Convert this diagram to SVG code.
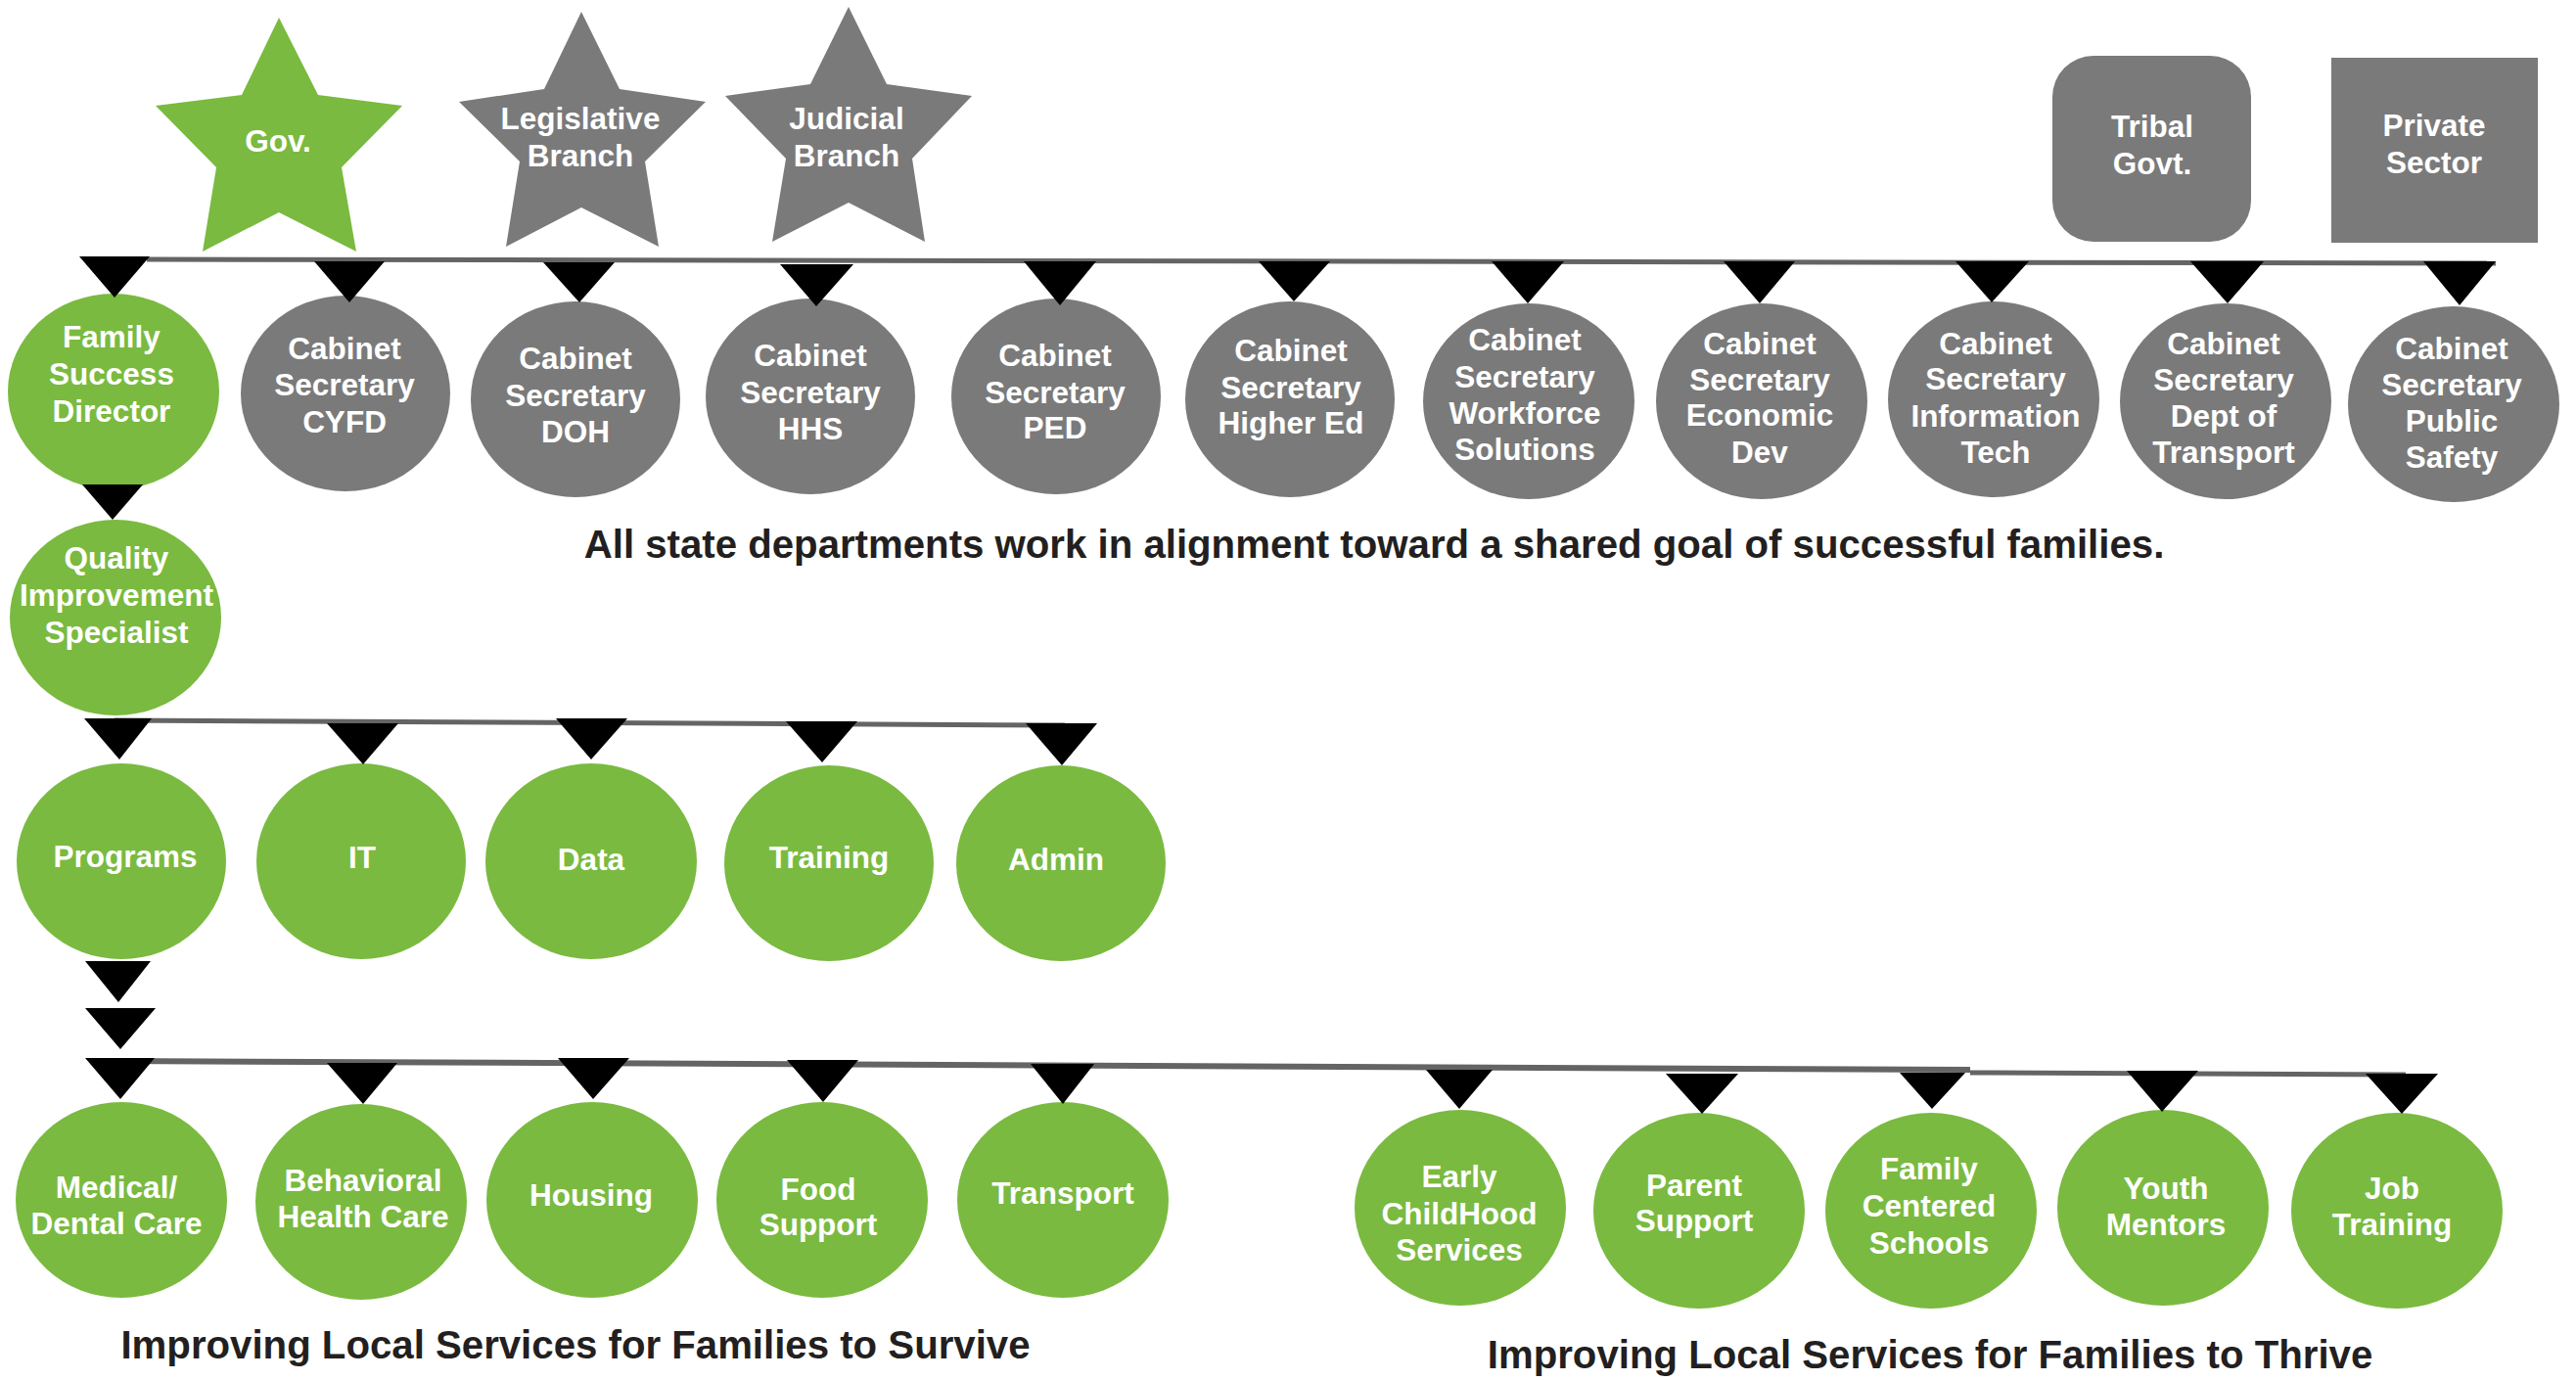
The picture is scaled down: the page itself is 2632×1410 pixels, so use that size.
<svg xmlns="http://www.w3.org/2000/svg" width="2632" height="1410" viewBox="0 0 2632 1410">
<style>
.g{fill:#7aba40}
.k{fill:#7a7a7a}
.t{font-family:"Liberation Sans",Arial,Helvetica,sans-serif;font-weight:bold;font-size:31.5px;fill:#fff;text-anchor:middle}
.c{font-family:"Liberation Sans",Arial,Helvetica,sans-serif;font-weight:bold;font-size:40.2px;fill:#231f20;text-anchor:middle}
.ln{stroke:#646464;fill:none}
.tri{fill:#000}
</style>
<rect width="2632" height="1410" fill="#fff"/>
<g id="nodes">
<g id="gov"><polygon class="g" points="285,18 325,97 411,108 349,171 364,257 285,217 207,257 221,171 159,108 247,97"/><text class="t" x="284" y="155">Gov.</text></g>
<g id="legislative"><polygon class="k" points="594,12 633,91 721,104 659,165 673,252 594,212 517,252 531,165 469,104 556,91"/><text class="t" x="593" y="132">Legislative</text><text class="t" x="593" y="170">Branch</text></g>
<g id="judicial"><polygon class="k" points="867,7 906,86 993,98 932,162 945,247 867,207 789,247 803,162 741,98 828,86"/><text class="t" x="865" y="132">Judicial</text><text class="t" x="865" y="170">Branch</text></g>
<g id="tribal"><rect class="k" x="2097" y="57" width="203" height="190" rx="42"/><text class="t" x="2199" y="140">Tribal</text><text class="t" x="2199" y="178">Govt.</text></g>
<g id="private"><rect class="k" x="2382" y="59" width="211" height="189"/><text class="t" x="2487" y="139">Private</text><text class="t" x="2487" y="177">Sector</text></g>

<g id="fsd"><ellipse class="g" cx="116" cy="400" rx="108" ry="100"/><text class="t" x="114" y="355">Family</text><text class="t" x="114" y="393">Success</text><text class="t" x="114" y="431">Director</text></g>
<g id="cyfd"><ellipse class="k" cx="353" cy="402" rx="107" ry="100"/><text class="t" x="352" y="367">Cabinet</text><text class="t" x="352" y="404">Secretary</text><text class="t" x="352" y="442">CYFD</text></g>
<g id="doh"><ellipse class="k" cx="588" cy="408" rx="107" ry="100"/><text class="t" x="588" y="377">Cabinet</text><text class="t" x="588" y="415">Secretary</text><text class="t" x="588" y="452">DOH</text></g>
<g id="hhs"><ellipse class="k" cx="828" cy="405" rx="107" ry="100"/><text class="t" x="828" y="374">Cabinet</text><text class="t" x="828" y="412">Secretary</text><text class="t" x="828" y="449">HHS</text></g>
<g id="ped"><ellipse class="k" cx="1079" cy="405" rx="107" ry="100"/><text class="t" x="1078" y="374">Cabinet</text><text class="t" x="1078" y="412">Secretary</text><text class="t" x="1078" y="448">PED</text></g>
<g id="highered"><ellipse class="k" cx="1318" cy="408" rx="107" ry="100"/><text class="t" x="1319" y="369">Cabinet</text><text class="t" x="1319" y="407">Secretary</text><text class="t" x="1319" y="443">Higher Ed</text></g>
<g id="workforce"><ellipse class="k" cx="1562" cy="410" rx="108" ry="100"/><text class="t" x="1558" y="358">Cabinet</text><text class="t" x="1558" y="396">Secretary</text><text class="t" x="1558" y="433">Workforce</text><text class="t" x="1558" y="470">Solutions</text></g>
<g id="econdev"><ellipse class="k" cx="1800" cy="410" rx="108" ry="100"/><text class="t" x="1798" y="362">Cabinet</text><text class="t" x="1798" y="399">Secretary</text><text class="t" x="1798" y="435">Economic</text><text class="t" x="1798" y="473">Dev</text></g>
<g id="infotech"><ellipse class="k" cx="2037" cy="408" rx="108" ry="100"/><text class="t" x="2039" y="362">Cabinet</text><text class="t" x="2039" y="398">Secretary</text><text class="t" x="2039" y="436">Information</text><text class="t" x="2039" y="473">Tech</text></g>
<g id="transportsec"><ellipse class="k" cx="2274" cy="410" rx="108" ry="100"/><text class="t" x="2272" y="362">Cabinet</text><text class="t" x="2272" y="399">Secretary</text><text class="t" x="2272" y="436">Dept of</text><text class="t" x="2272" y="473">Transport</text></g>
<g id="publicsafety"><ellipse class="k" cx="2507" cy="413" rx="108" ry="100"/><text class="t" x="2505" y="367">Cabinet</text><text class="t" x="2505" y="404">Secretary</text><text class="t" x="2505" y="441">Public</text><text class="t" x="2505" y="478">Safety</text></g>

<g id="qis"><ellipse class="g" cx="118" cy="631" rx="108" ry="100"/><text class="t" x="119" y="581">Quality</text><text class="t" x="119" y="619">Improvement</text><text class="t" x="119" y="657">Specialist</text></g>

<g id="programs"><ellipse class="g" cx="124" cy="880" rx="107" ry="100"/><text class="t" x="128" y="886">Programs</text></g>
<g id="it"><ellipse class="g" cx="369" cy="880" rx="107" ry="100"/><text class="t" x="370" y="887">IT</text></g>
<g id="data"><ellipse class="g" cx="604" cy="880" rx="108" ry="100"/><text class="t" x="604" y="889">Data</text></g>
<g id="training"><ellipse class="g" cx="847" cy="882" rx="107" ry="100"/><text class="t" x="847" y="887">Training</text></g>
<g id="admin"><ellipse class="g" cx="1084" cy="882" rx="107" ry="100"/><text class="t" x="1079" y="889">Admin</text></g>

<g id="medical"><ellipse class="g" cx="124" cy="1226" rx="108" ry="100"/><text class="t" x="119" y="1224">Medical/</text><text class="t" x="119" y="1261">Dental Care</text></g>
<g id="behavioral"><ellipse class="g" cx="369" cy="1228" rx="108" ry="100"/><text class="t" x="371" y="1217">Behavioral</text><text class="t" x="371" y="1254">Health Care</text></g>
<g id="housing"><ellipse class="g" cx="605" cy="1226" rx="108" ry="100"/><text class="t" x="604" y="1232">Housing</text></g>
<g id="food"><ellipse class="g" cx="840" cy="1226" rx="108" ry="100"/><text class="t" x="836" y="1226">Food</text><text class="t" x="836" y="1262">Support</text></g>
<g id="transport"><ellipse class="g" cx="1086" cy="1226" rx="108" ry="100"/><text class="t" x="1086" y="1230">Transport</text></g>
<g id="earlychildhood"><ellipse class="g" cx="1492" cy="1234" rx="108" ry="100"/><text class="t" x="1491" y="1213">Early</text><text class="t" x="1491" y="1251">ChildHood</text><text class="t" x="1491" y="1288">Services</text></g>
<g id="parentsupport"><ellipse class="g" cx="1736" cy="1237" rx="108" ry="100"/><text class="t" x="1731" y="1222">Parent</text><text class="t" x="1731" y="1258">Support</text></g>
<g id="familyschools"><ellipse class="g" cx="1973" cy="1237" rx="108" ry="100"/><text class="t" x="1971" y="1205">Family</text><text class="t" x="1971" y="1243">Centered</text><text class="t" x="1971" y="1281">Schools</text></g>
<g id="youthmentors"><ellipse class="g" cx="2210" cy="1234" rx="108" ry="100"/><text class="t" x="2213" y="1225">Youth</text><text class="t" x="2213" y="1262">Mentors</text></g>
<g id="jobtraining"><ellipse class="g" cx="2449" cy="1237" rx="108" ry="100"/><text class="t" x="2444" y="1225">Job</text><text class="t" x="2444" y="1262">Training</text></g>
</g>

<g id="connectors">
<line class="ln" x1="150" y1="265" x2="2550" y2="269" stroke-width="5"/>
<line class="ln" x1="117" y1="736" x2="1088" y2="741" stroke-width="5"/>
<line class="ln" x1="118" y1="1084" x2="2013" y2="1093" stroke-width="6"/>
<line class="ln" x1="2013" y1="1096" x2="2458" y2="1098" stroke-width="5"/>
<polygon class="tri" points="81,262 153,262 117,304"/>
<polygon class="tri" points="321,267 393,267 357,309"/>
<polygon class="tri" points="555,268 628,268 592,309"/>
<polygon class="tri" points="797,270 872,270 834,313"/>
<polygon class="tri" points="1046,267 1120,267 1083,312"/>
<polygon class="tri" points="1286,267 1359,267 1322,308"/>
<polygon class="tri" points="1524,267 1598,267 1561,310"/>
<polygon class="tri" points="1761,267 1834,267 1798,310"/>
<polygon class="tri" points="1998,267 2073,267 2035,309"/>
<polygon class="tri" points="2238,267 2313,267 2276,310"/>
<polygon class="tri" points="2476,267 2550,267 2513,312"/>
<polygon class="tri" points="84,495 146,495 115,531"/>
<polygon class="tri" points="86,734 155,734 122,776"/>
<polygon class="tri" points="334,739 407,739 371,781"/>
<polygon class="tri" points="568,734 641,734 604,776"/>
<polygon class="tri" points="803,737 876,737 840,779"/>
<polygon class="tri" points="1048,739 1121,739 1085,782"/>
<polygon class="tri" points="87,982 154,982 121,1024"/>
<polygon class="tri" points="87,1030 159,1030 123,1072"/>
<polygon class="tri" points="87,1081 158,1081 123,1123"/>
<polygon class="tri" points="334,1086 406,1086 371,1128"/>
<polygon class="tri" points="570,1081 643,1081 606,1123"/>
<polygon class="tri" points="804,1083 877,1083 841,1126"/>
<polygon class="tri" points="1053,1087 1118,1087 1086,1128"/>
<polygon class="tri" points="1457,1093 1525,1093 1491,1133"/>
<polygon class="tri" points="1702,1097 1776,1097 1739,1138"/>
<polygon class="tri" points="1941,1096 2008,1096 1974,1133"/>
<polygon class="tri" points="2173,1094 2246,1094 2209,1136"/>
<polygon class="tri" points="2417,1097 2491,1097 2454,1138"/>
</g>

<g id="captions">
<text class="c" x="1404" y="570">All state departments work in alignment toward a shared goal of successful families.</text>
<text class="c" x="588" y="1388">Improving Local Services for Families to Survive</text>
<text class="c" x="1972" y="1398">Improving Local Services for Families to Thrive</text>
</g>
</svg>
